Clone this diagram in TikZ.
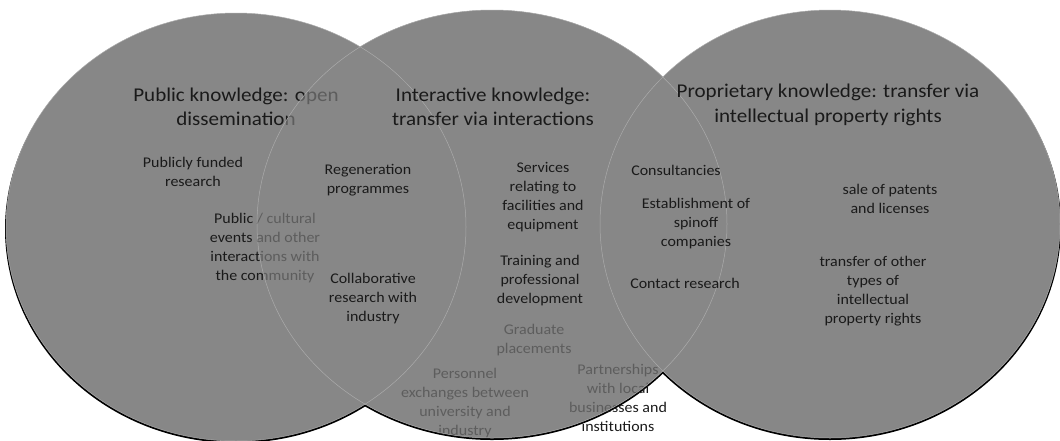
\documentclass[tikz,border=0pt]{standalone}
\usepackage{fontspec}
\setmainfont{Carlito}[FakeStretch=1.08]
\definecolor{circ}{HTML}{878787}
\definecolor{ink}{HTML}{1A1A1A}
\tikzset{
  titletext/.style={font=\fontsize{19.5}{24.5}\selectfont, text=ink, align=center, inner sep=0pt},
  itemtext/.style={font=\fontsize{14.8}{19}\selectfont, text=ink, align=center, inner sep=0pt},
  disc/.style={fill=circ, draw=none},
  overdisc/.style={fill=circ, fill opacity=0.62, draw=none},
  rim/.style={draw=white!30!circ, line width=0.5pt},
  shade/.style={fill=black}
}
\begin{document}
\begin{tikzpicture}[x=1pt,y=-1pt]
\useasboundingbox (0,0) rectangle (1060,440);
\clip (0,0) rectangle (1060,440);
\coordinate (L) at (236,227);
\coordinate (M) at (492,224);
\coordinate (R) at (830,224);
% shadows
\fill[shade] ([yshift=-2pt]L) ellipse [x radius=231pt, y radius=214pt];
\fill[shade] ([yshift=-2pt]M) ellipse [x radius=236pt, y radius=214pt];
\fill[shade] ([yshift=-2pt]R) ellipse [x radius=231pt, y radius=214pt];
% opaque discs
\fill[disc] (L) ellipse [x radius=230pt, y radius=214pt];
\fill[disc] (M) ellipse [x radius=235pt, y radius=214pt];
\fill[disc] (R) ellipse [x radius=230pt, y radius=214pt];
% texts lying under the middle disc
\node[titletext] (ltitle) at (236,107) {Public knowledge: open\\dissemination};
\node[itemtext] (pfr) at (193,172) {Publicly funded\\research};
\node[itemtext] (pce) at (265,248) {Public / cultural\\events and other\\interactions with\\the community};
\node[itemtext] (grad) at (534,340) {Graduate\\placements};
\node[itemtext] (pers) at (465,403) {Personnel\\exchanges between\\university and\\industry};
\node[itemtext] (partn) at (618,398) {Partnerships\\with local\\businesses and\\institutions};
% middle disc again, semi-transparent, veiling the texts below it
\fill[overdisc] (M) ellipse [x radius=235pt, y radius=214pt];
% faint rims
\draw[rim] (L) ellipse [x radius=230pt, y radius=214pt];
\draw[rim] (M) ellipse [x radius=235pt, y radius=214pt];
\draw[rim] (R) ellipse [x radius=230pt, y radius=214pt];
% texts on top
\node[titletext] (mtitle) at (493,107) {Interactive knowledge:\\transfer via interactions};
\node[titletext] (rtitle) at (828,105) {Proprietary knowledge: transfer via\\intellectual property rights};
\node[itemtext] (regen) at (368,180) {Regeneration\\programmes};
\node[itemtext] (collab) at (373,299) {Collaborative\\research with\\industry};
\node[itemtext] (serv) at (543,197) {Services\\relating to\\facilities and\\equipment};
\node[itemtext] (train) at (540,281) {Training and\\professional\\development};
\node[itemtext] (consult) at (676,170) {Consultancies};
\node[itemtext] (estab) at (696,224) {Establishment of\\spinoff\\companies};
\node[itemtext] (contact) at (685,283) {Contact research};
\node[itemtext] (sale) at (890,199) {sale of patents\\and licenses};
\node[itemtext] (tother) at (873,291) {transfer of other\\types of\\intellectual\\property rights};
\end{tikzpicture}
\end{document}
